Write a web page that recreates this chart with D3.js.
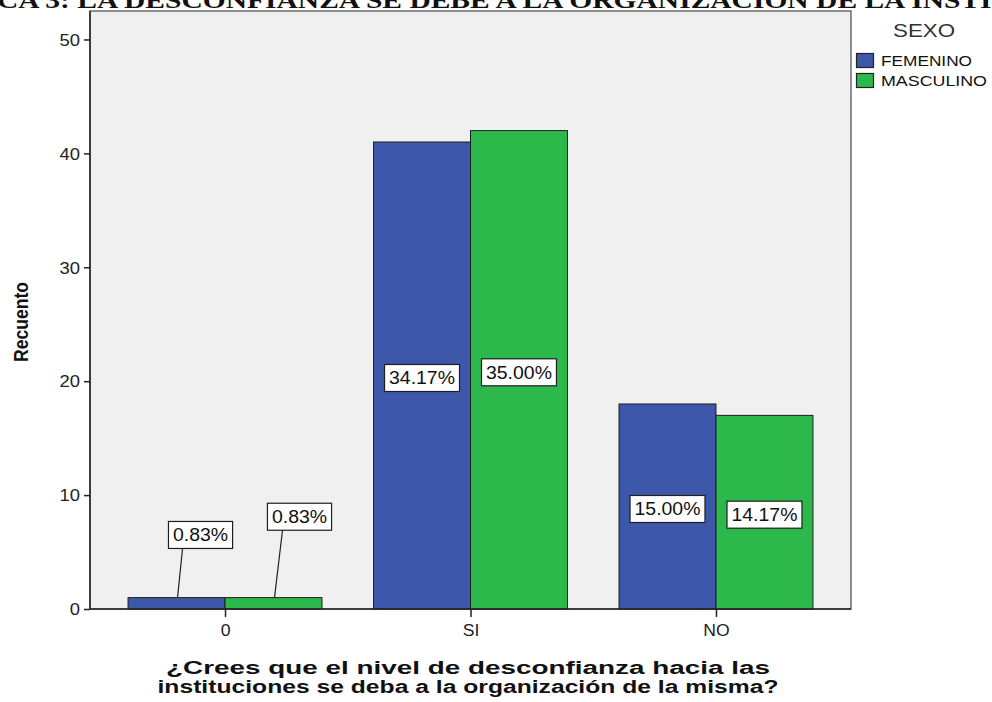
<!DOCTYPE html>
<html>
<head>
<meta charset="utf-8">
<script src="https://cdn.jsdelivr.net/npm/d3@7"></script>
<style>
  html, body { margin: 0; padding: 0; background: #ffffff; }
  svg { display: block; }
</style>
</head>
<body>
<svg id="chart" width="992" height="702"></svg>
<script>
// ---- data ----
const categories = ["0", "SI", "NO"];
const seriesNames = ["FEMENINO", "MASCULINO"];
const femenino = [1, 41, 18];
const masculino = [1, 42, 17];
const pctFemenino = ["0.83%", "34.17%", "15.00%"];
const pctMasculino = ["0.83%", "35.00%", "14.17%"];
const yTicks = [0, 10, 20, 30, 40, 50];
const legendTitle = "SEXO";
const yTitle = "Recuento";
const xTitleLines = ["¿Crees que el nivel de desconfianza hacia las",
                     "instituciones se deba a la organización de la misma?"];
const chartTitle = "GRÁFICA 3: LA DESCONFIANZA SE DEBE A LA ORGANIZACIÓN DE LA INSTITUCIÓN";

// ---- layout ----
const colors = ["#3d57aa", "#2db84c"];
const frame = { left: 90, right: 851, top: 11, bottom: 609 };
const sansFont = "Arial, 'Liberation Sans', sans-serif";
const serifFont = "'Liberation Serif', 'Times New Roman', serif";

const svg = d3.select("#chart");

function stretchText(sel, factor) {
  sel.each(function () {
    const n = this.getComputedTextLength();
    d3.select(this).attr("textLength", n * factor).attr("lengthAdjust", "spacingAndGlyphs");
  });
  return sel;
}
function measure(str, font, size, weight) {
  const t = svg.append("text").attr("font-family", font).attr("font-size", size)
    .attr("font-weight", weight).text(str);
  const n = t.node().getComputedTextLength();
  t.remove();
  return n;
}

const x0 = d3.scaleBand().domain(categories).range([frame.left, frame.right])
  .paddingInner(0.21).paddingOuter(0.155);
const x1 = d3.scaleBand().domain(seriesNames).range([0, x0.bandwidth()]);
const y = d3.scaleLinear().domain([0, 52.5]).range([frame.bottom, frame.top]);

// title (clipped at top of image, as in the reference)
const titleFontSize = 23;
const prefixLen = measure("GRÁFI", serifFont, titleFontSize, "bold");
const visibleLen = measure(chartTitle.slice(5, chartTitle.indexOf("INSTI") + 5), serifFont, titleFontSize, "bold");
const titleScale = 995 / visibleLen;
svg.append("text")
  .attr("transform", `translate(-3,8) scale(${titleScale},1)`)
  .attr("x", -prefixLen)
  .attr("y", 0)
  .attr("font-family", serifFont)
  .attr("font-weight", "bold")
  .attr("font-size", titleFontSize)
  .attr("fill", "#111")
  .text(chartTitle);

// plot background
svg.append("rect")
  .attr("x", frame.left).attr("y", frame.top)
  .attr("width", frame.right - frame.left).attr("height", frame.bottom - frame.top)
  .attr("fill", "#f0f0f0").attr("stroke", "#555").attr("stroke-width", 1.3);

// bars
const rows = categories.map((c, i) => ({
  cat: c,
  vals: [
    { s: seriesNames[0], v: femenino[i], p: pctFemenino[i], k: 0 },
    { s: seriesNames[1], v: masculino[i], p: pctMasculino[i], k: 1 }
  ]
}));

const g = svg.append("g");
const groups = g.selectAll("g.cat").data(rows).join("g")
  .attr("transform", d => `translate(${x0(d.cat)},0)`);

groups.selectAll("rect").data(d => d.vals).join("rect")
  .attr("x", d => x1(d.s))
  .attr("y", d => y(d.v))
  .attr("width", x1.bandwidth())
  .attr("height", d => y(0) - y(d.v))
  .attr("fill", d => colors[d.k])
  .attr("stroke", "#1e1e1e")
  .attr("stroke-width", 1);

// axes lines (dark)
svg.append("line").attr("x1", frame.left).attr("x2", frame.left)
  .attr("y1", frame.top).attr("y2", frame.bottom).attr("stroke", "#222").attr("stroke-width", 1.5);
svg.append("line").attr("x1", frame.left).attr("x2", frame.right)
  .attr("y1", frame.bottom).attr("y2", frame.bottom).attr("stroke", "#222").attr("stroke-width", 1.5);

// y axis
const yAxis = d3.axisLeft(y).tickValues(yTicks).tickSize(6).tickPadding(4);
const yg = svg.append("g").attr("transform", `translate(${frame.left},0)`).call(yAxis);
yg.select(".domain").remove();
yg.selectAll(".tick line").attr("stroke", "#222").attr("stroke-width", 1.5);
yg.selectAll(".tick text").attr("font-family", sansFont).attr("font-size", 16).attr("fill", "#222")
  .attr("dy", "0.36em");
stretchText(yg.selectAll(".tick text"), 1.15);

// x axis
const xAxis = d3.axisBottom(d3.scalePoint().domain(categories)
  .range([x0(categories[0]) + x0.bandwidth() / 2, x0(categories[categories.length - 1]) + x0.bandwidth() / 2]))
  .tickSize(8).tickPadding(8);
const xg = svg.append("g").attr("transform", `translate(0,${frame.bottom})`).call(xAxis);
xg.select(".domain").remove();
xg.selectAll(".tick line").attr("stroke", "#222").attr("stroke-width", 1.5);
xg.selectAll(".tick text").attr("font-family", sansFont).attr("font-size", 16).attr("fill", "#222");
stretchText(xg.selectAll(".tick text"), 1.1);

// value labels
const labelH = 27;
function drawLabel(cx, cy, text) {
  const lg = svg.append("g");
  const t = lg.append("text").attr("x", cx).attr("y", cy)
    .attr("text-anchor", "middle").attr("dy", "0.36em")
    .attr("font-family", sansFont).attr("font-size", 18).attr("fill", "#111")
    .text(text);
  const n = t.node().getComputedTextLength() * 1.08;
  t.attr("textLength", n).attr("lengthAdjust", "spacingAndGlyphs");
  const w = n + 9;
  lg.insert("rect", "text").attr("x", cx - w / 2).attr("y", cy - labelH / 2)
    .attr("width", w).attr("height", labelH)
    .attr("fill", "#ffffff").attr("stroke", "#1e1e1e").attr("stroke-width", 1.2);
}

// leader-line offsets for very short bars (first category)
const leaderOffsets = [{ dx: 24, dv: 5.5, lx: 6 }, { dx: 26, dv: 7.1, lx: 9 }];

rows.forEach(r => {
  r.vals.forEach(d => {
    const bx = x0(r.cat) + x1(d.s) + x1.bandwidth() / 2;
    if (d.v < 3) {
      const off = leaderOffsets[d.k];
      const cx = bx + off.dx;
      const cy = y(d.v + off.dv);
      svg.append("line")
        .attr("x1", bx + 1).attr("y1", y(d.v))
        .attr("x2", bx + off.lx).attr("y2", cy + labelH / 2)
        .attr("stroke", "#222").attr("stroke-width", 1.2);
      drawLabel(cx, cy, d.p);
    } else {
      drawLabel(bx, (y(d.v) + y(0)) / 2 + 2.5, d.p);
    }
  });
});

// y title
svg.append("text")
  .attr("transform", `translate(28,${(frame.top + frame.bottom) / 2 + 12}) rotate(-90)`)
  .attr("text-anchor", "middle")
  .attr("font-family", sansFont).attr("font-weight", "bold").attr("font-size", 20)
  .attr("textLength", 80).attr("lengthAdjust", "spacingAndGlyphs")
  .attr("fill", "#111").text(yTitle);

// x title
const xtCenter = 468;
const xtWidths = [604, 621];
xTitleLines.forEach((line, i) => {
  svg.append("text")
    .attr("x", xtCenter).attr("y", 674 + i * 19)
    .attr("text-anchor", "middle")
    .attr("font-family", sansFont).attr("font-weight", "bold").attr("font-size", 18)
    .attr("fill", "#111")
    .attr("textLength", xtWidths[i]).attr("lengthAdjust", "spacingAndGlyphs")
    .text(line);
});

// legend
svg.append("text").attr("x", 924).attr("y", 37).attr("text-anchor", "middle")
  .attr("font-family", sansFont).attr("font-size", 18).attr("fill", "#333")
  .attr("textLength", 62).attr("lengthAdjust", "spacingAndGlyphs")
  .text(legendTitle);
const legendWidths = [91, 106];
seriesNames.forEach((s, i) => {
  const ly = 53 + i * 20;
  svg.append("rect").attr("x", 856.5).attr("y", ly + 0.5).attr("width", 17).attr("height", 14)
    .attr("fill", colors[i]).attr("stroke", "#222").attr("stroke-width", 1.2);
  svg.append("text").attr("x", 881).attr("y", ly + 13)
    .attr("font-family", sansFont).attr("font-size", 15).attr("fill", "#111")
    .attr("textLength", legendWidths[i]).attr("lengthAdjust", "spacingAndGlyphs")
    .text(s);
});
</script>
</body>
</html>
